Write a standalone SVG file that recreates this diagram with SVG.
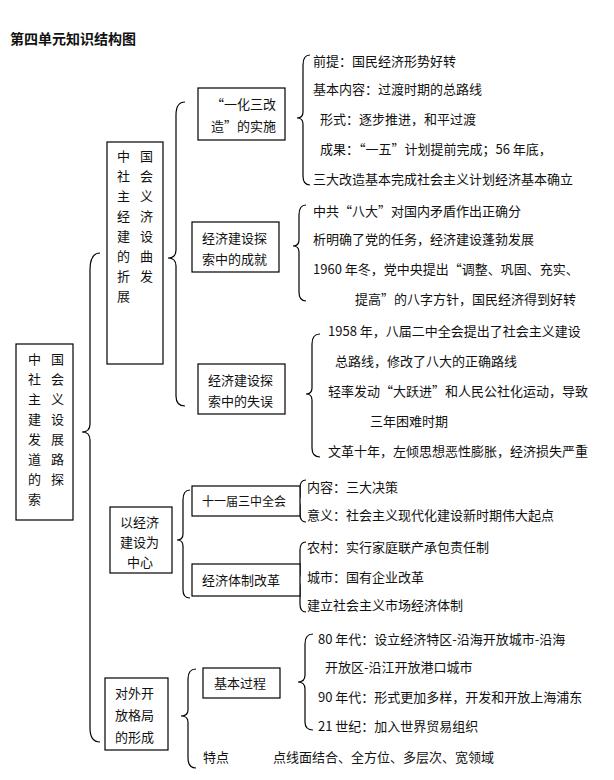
<svg xmlns="http://www.w3.org/2000/svg" width="614" height="780" viewBox="0 0 614 780">
<style>
text{font-family:"Noto Sans CJK SC","Noto Sans",sans-serif;font-size:13px;fill:#111}
.b{fill:#fff;stroke:#000;stroke-width:1.2}
.br{fill:none;stroke:#000;stroke-width:1.2}
.t{font-weight:bold;font-size:14px}
</style>
<rect width="614" height="780" fill="#fff"/>
<text class="t" x="10" y="44">第四单元知识结构图</text>
<g id="connectors">
<path class="br" d="M100 253 Q90 253 90 270 L90 424 Q90 432 82 432 Q90 432 90 440 L90 728 Q90 742 100 742"/>
<path class="br" d="M185 102 Q176 102 176 115 L176 250 Q176 258 168 258 Q176 258 176 266 L176 396 Q176 406 185 406"/>
<path class="br" d="M310 55 Q303 55 303 65 L303 112 Q303 118 297 118 Q303 118 303 124 L303 176 Q303 185 310 185"/>
<path class="br" d="M306 205 Q299 205 299 215 L299 240 Q299 246 293 246 Q299 246 299 252 L299 292 Q299 301 306 301"/>
<path class="br" d="M320 334 Q312 334 312 344 L312 388 Q312 394 306 394 Q312 394 312 400 L312 448 Q312 457 320 457"/>
<path class="br" d="M190 490 Q183 490 183 500 L183 534 Q183 540 177 540 Q183 540 183 546 L183 590 Q183 598 190 598"/>
<path class="br" d="M306 480 Q300 480 300 488 L300 496 Q300 501 295 501 Q300 501 300 506 L300 514 Q300 522 306 522"/>
<path class="br" d="M306 542 Q300 542 300 550 L300 574 Q300 580 295 580 Q300 580 300 586 L300 604 Q300 612 306 612"/>
<path class="br" d="M196 669 Q188 669 188 679 L188 710 Q188 716 181 716 Q188 716 188 722 L188 758 Q188 768 196 768"/>
<path class="br" d="M313 634 Q305 634 305 644 L305 675 Q305 682 298 682 Q305 682 305 689 L305 722 Q305 730 313 730"/>
</g>
<g id="root"><rect class="b" x="16" y="344" width="57" height="176"/>
<text x="28" y="364">中</text><text x="28" y="384">社</text><text x="28" y="404">主</text><text x="28" y="424">建</text><text x="28" y="444">发</text><text x="28" y="464">道</text><text x="28" y="484">的</text><text x="28" y="504">索</text>
<text x="51" y="364">国</text><text x="51" y="384">会</text><text x="51" y="404">义</text><text x="51" y="424">设</text><text x="51" y="444">展</text><text x="51" y="464">路</text><text x="51" y="484">探</text></g>
<g id="n1"><rect class="b" x="107" y="142" width="56" height="222"/>
<text x="117" y="161">中</text><text x="117" y="181">社</text><text x="117" y="201">主</text><text x="117" y="221">经</text><text x="117" y="241">建</text><text x="117" y="261">的</text><text x="117" y="281">折</text><text x="117" y="301">展</text>
<text x="140" y="161">国</text><text x="140" y="181">会</text><text x="140" y="201">义</text><text x="140" y="221">济</text><text x="140" y="241">设</text><text x="140" y="261">曲</text><text x="140" y="281">发</text></g>
<g id="n1a"><rect class="b" x="198" y="88" width="87" height="52"/><text x="211" y="109">“一化三改</text><text x="211" y="131">造”的实施</text></g>
<g id="n1b"><rect class="b" x="192" y="222" width="87" height="50"/><text x="202" y="243">经济建设探</text><text x="202" y="264">索中的成就</text></g>
<g id="n1c"><rect class="b" x="198" y="364" width="87" height="50"/><text x="208" y="385">经济建设探</text><text x="208" y="406">索中的失误</text></g>
<g id="t1">
<text x="313" y="66">前提：国民经济形势好转</text>
<text x="313" y="94">基本内容：过渡时期的总路线</text>
<text x="320" y="124">形式：逐步推进，和平过渡</text>
<text x="320" y="154">成果：“一五”计划提前完成；56 年底，</text>
<text x="313" y="184">三大改造基本完成社会主义计划经济基本确立</text>
<text x="313" y="216">中共“八大”对国内矛盾作出正确分</text>
<text x="313" y="244">析明确了党的任务，经济建设蓬勃发展</text>
<text x="313" y="274">1960 年冬，党中央提出“调整、巩固、充实、</text>
<text x="355" y="304">提高”的八字方针，国民经济得到好转</text>
<text x="328" y="336">1958 年，八届二中全会提出了社会主义建设</text>
<text x="335" y="366">总路线，修改了八大的正确路线</text>
<text x="328" y="396">轻率发动“大跃进”和人民公社化运动，导致</text>
<text x="370" y="426">三年困难时期</text>
<text x="328" y="456">文革十年，左倾思想恶性膨胀，经济损失严重</text>
</g>
<g id="n2"><rect class="b" x="110" y="507" width="62" height="66"/><text x="120" y="527">以经济</text><text x="120" y="547">建设为</text><text x="127" y="567">中心</text></g>
<g id="n2a"><rect class="b" x="192" y="486" width="108" height="30"/><text x="202" y="506" style="font-size:12px">十一届三中全会</text></g>
<g id="n2b"><rect class="b" x="192" y="564" width="108" height="32"/><text x="202" y="585">经济体制改革</text></g>
<g id="t2">
<text x="307" y="492">内容：三大决策</text>
<text x="307" y="520">意义：社会主义现代化建设新时期伟大起点</text>
<text x="307" y="552">农村：实行家庭联产承包责任制</text>
<text x="307" y="582">城市：国有企业改革</text>
<text x="307" y="610">建立社会主义市场经济体制</text>
</g>
<g id="n3"><rect class="b" x="105" y="678" width="63" height="72"/><text x="115" y="698">对外开</text><text x="115" y="720">放格局</text><text x="115" y="742">的形成</text></g>
<g id="n3a"><rect class="b" x="203" y="668" width="77" height="30"/><text x="214" y="688">基本过程</text></g>
<g id="t3">
<text x="318" y="644">80 年代：设立经济特区-沿海开放城市-沿海</text>
<text x="325" y="672">开放区-沿江开放港口城市</text>
<text x="318" y="702">90 年代：形式更加多样，开发和开放上海浦东</text>
<text x="318" y="731">21 世纪：加入世界贸易组织</text>
<text x="203" y="762">特点</text>
<text x="273" y="762">点线面结合、全方位、多层次、宽领域</text>
</g>
</svg>
